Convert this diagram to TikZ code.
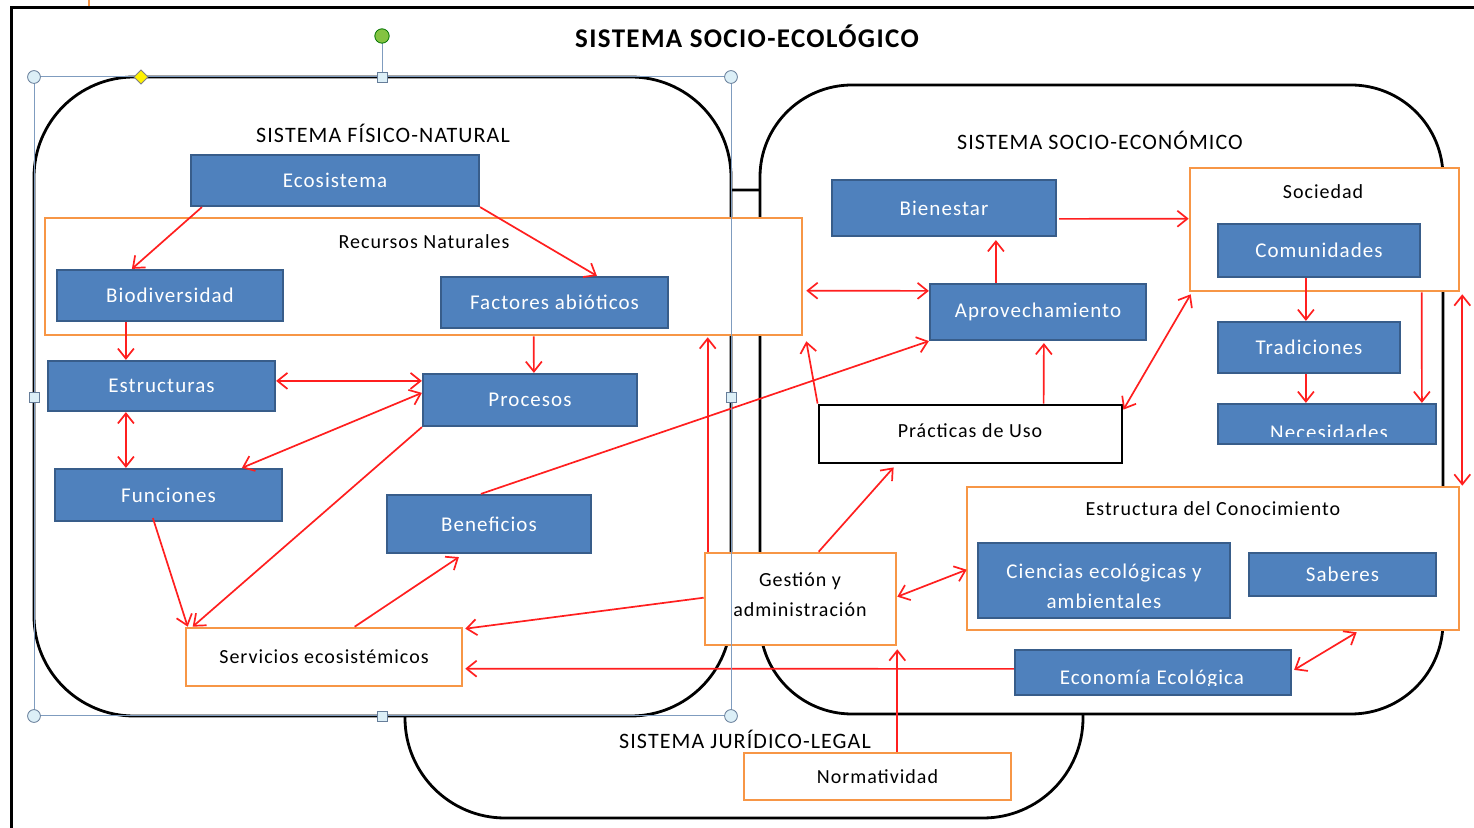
\documentclass[tikz,border=0pt]{standalone}
\usepackage{fontspec}
\setmainfont{Carlito}[LetterSpace=5]
\usetikzlibrary{arrows.meta,calc}
\definecolor{bfill}{HTML}{4F81BD}
\definecolor{bline}{HTML}{385D8A}
\definecolor{orng}{HTML}{F79646}
\definecolor{selc}{HTML}{7F9CBF}
\definecolor{hfill}{HTML}{DCEFF7}
\definecolor{grn}{HTML}{84C341}
\definecolor{ylw}{HTML}{FFF200}
\definecolor{arrred}{HTML}{FF1F1F}
\newcommand\rbox[7]{\node[#1,minimum width={(#5-#3)*0.5pt},minimum height={(#6-#4)*0.5pt}] (#2) at ({(#3+#5)/2},{(#4+#6)/2}) {#7};}
\tikzset{
  bluebox/.style={draw=bline, fill=bfill, line width=1.1pt, inner sep=0pt, text=white, font=\fontsize{10.5}{15}\selectfont, align=center},
  obox/.style={draw=orng, fill=white, line width=1.3pt, inner sep=0pt, font=\fontsize{10}{15}\selectfont, align=center},
  kbox/.style={draw=black, fill=white, line width=1.4pt, inner sep=0pt, font=\fontsize{10}{15}\selectfont},
  lbl/.style={font=\fontsize{10}{15}\selectfont, inner sep=0pt, align=center},
  wlbl/.style={font=\fontsize{10.5}{15}\selectfont, inner sep=0pt, align=center, text=white},
  syslbl/.style={font=\fontsize{11}{13}\selectfont, inner sep=0pt},
  sysrect/.style={draw=black, fill=white, line width=1.4pt, inner sep=0pt},
  arr/.style={draw=arrred, line width=0.85pt, -{Straight Barb[length=5pt,width=8pt]}},
  darr/.style={draw=arrred, line width=0.85pt, {Straight Barb[length=5pt,width=8pt]}-{Straight Barb[length=5pt,width=8pt]}},
  sel/.style={draw=selc, line width=0.5pt},
  handle/.style={draw=selc!80!black, fill=hfill, line width=0.4pt}
}
\begin{document}
\begin{tikzpicture}[x=0.5pt,y=-0.5pt]
\useasboundingbox (0,0) rectangle (1474,828);
\fill[white] (0,0) rectangle (1474,828);
% outer frame
\draw[line width=1.5pt] (11,828) -- (11,8) -- (1474,8);
\draw[orng, line width=1pt] (89,0) -- (89,6);
\node[font=\fontsize{13.5}{16}\selectfont\bfseries, inner sep=0pt] (title) at (747,36) {SISTEMA SOCIO-ECOLÓGICO};
% systems
\rbox{sysrect, rounded corners=50pt}{leg}{405}{190}{1083}{818}{}
\rbox{sysrect, rounded corners=50pt}{phys}{34}{77}{731}{716}{}
\rbox{sysrect, rounded corners=46pt}{soc-sys}{760}{85}{1443}{714}{}
\node[syslbl] (physl) at (383,133) {SISTEMA FÍSICO-NATURAL};
\node[syslbl] (socl) at (1100,140) {SISTEMA SOCIO-ECONÓMICO};
\node[syslbl] (legl) at (745,739) {SISTEMA JURÍDICO-LEGAL};
% containers
\rbox{obox}{rec}{45}{218}{802}{335}{}
\node[lbl] (recl) at (424,242) {Recursos Naturales};
\rbox{obox}{soc}{1190}{168}{1459}{291}{}
\node[lbl] (socbl) at (1323,192) {Sociedad};
\rbox{obox}{ecn}{967}{487}{1459}{630}{}
\node[lbl] (ecnl) at (1213,509) {Estructura del Conocimiento};
\rbox{obox}{ges}{705}{553}{896}{645}{}
\node[lbl] (gesl) at (800,595) {Gestión y\\administración};
\rbox{obox}{ser}{186}{628}{462}{686}{Servicios ecosistémicos}
\rbox{obox}{nor}{744}{753}{1011}{800}{Normatividad}
\rbox{kbox}{pra}{819}{405}{1122}{463}{}
\node[lbl] (pral) at (970,431) {Prácticas de Uso};
% blue boxes
\rbox{bluebox}{eco}{191}{155}{479}{206}{Ecosistema}
\rbox{bluebox}{bio}{57}{270}{283}{321}{Biodiversidad}
\rbox{bluebox}{fac}{441}{277}{668}{328}{Factores abióticos}
\rbox{bluebox}{est}{48}{361}{275}{411}{Estructuras}
\rbox{bluebox}{pro}{423}{374}{637}{426}{Procesos}
\rbox{bluebox}{fun}{55}{469}{282}{521}{Funciones}
\rbox{bluebox}{ben}{387}{495}{591}{553}{Beneficios}
\rbox{bluebox}{bie}{832}{180}{1056}{236}{Bienestar}
\rbox{bluebox}{apr}{930}{284}{1146}{340}{Aprovechamiento}
\rbox{bluebox}{com}{1218}{224}{1420}{277}{Comunidades}
\rbox{bluebox}{tra}{1218}{322}{1400}{373}{Tradiciones}
\rbox{bluebox}{nec}{1218}{404}{1436}{444}{}
\begin{scope}
\clip (1218,404) rectangle (1436,437);
\node[text=white, font=\fontsize{10.5}{12}\selectfont, inner sep=0pt, anchor=base] (necl) at (1329,440) {Necesidades};
\end{scope}
\rbox{bluebox}{cie}{978}{543}{1230}{618}{}
\node[wlbl] (ciel) at (1104,586) {Ciencias ecológicas y\\ambientales};
\rbox{bluebox}{sab}{1249}{553}{1436}{596}{Saberes}
\rbox{bluebox}{eec}{1015}{650}{1291}{695}{}
\begin{scope}
\clip (1015,650) rectangle (1291,686);
\node[text=white, font=\fontsize{10.5}{12}\selectfont, inner sep=0pt, anchor=base] (eecl) at (1152,684) {Economía Ecológica};
\end{scope}
% connectors
\draw[arr] ($(eco.south west)+(12,0)$) -- ($(bio.north west)+(76,0)$);
\draw[arr] (eco.south east) -- ($(fac.north west)+(157,0)$);
\draw[arr] ($(bio.south west)+(70,0)$) -- ($(est.north west)+(79,0)$);
\draw[arr] ($(rec.south west)+(490,0)$) -- ($(pro.north west)+(112,0)$);
\draw[darr] ($(est.north east)+(0,21)$) -- ($(pro.north west)+(0,8)$);
\draw[darr] ($(est.south west)+(79,0)$) -- ($(fun.north west)+(72,0)$);
\draw[darr] ($(pro.north west)+(0,20)$) -- ($(fun.north west)+(188,0)$);
\draw[arr] (pro.south west) -- ($(ser.north west)+(8,0)$);
\draw[arr] ($(fun.south west)+(99,-4)$) -- ($(ser.north west)+(3,0)$);
\draw[arr] ($(ser.north west)+(170,0)$) -- ($(ben.south west)+(73,3)$);
\draw[arr] ($(ben.north west)+(95,0)$) -- (apr.south west);
\draw[arr] ($(ges.north west)+(0,46)$) -- ($(ser.north east)+(2,2)$);
\draw[arr] ($(eec.north west)+(0,20)$) -- ($(ser.north east)+(2,42)$);
\draw[arr] ($(ges.north west)+(4,0)$) -- ($(rec.south west)+(664,1)$);
\draw[arr] (pra.north west) -- ($(rec.south east)+(3,5)$);
\draw[darr] ($(rec.north east)+(3,74)$) -- ($(apr.north west)+(0,8)$);
\draw[arr] ($(apr.north west)+(67,0)$) -- ($(bie.south west)+(165,3)$);
\draw[arr] ($(pra.north west)+(226,0)$) -- ($(apr.south west)+(115,2)$);
\draw[arr] ($(bie.north east)+(2,40)$) -- ($(soc.north west)+(0,52)$);
\draw[darr] ($(soc.south west)+(2,2)$) -- ($(pra.north east)+(0,6)$);
\draw[arr] ($(com.south west)+(89,0)$) -- ($(tra.north west)+(89,0)$);
\draw[arr] ($(tra.south west)+(89,0)$) -- ($(nec.north west)+(89,0)$);
\draw[arr] ($(soc.south west)+(233,0)$) -- ($(nec.north west)+(205,0)$);
\draw[darr] ($(soc.south east)+(2,2)$) -- ($(ecn.north east)+(2,0)$);
\draw[arr] ($(ges.north west)+(115,0)$) -- ($(pra.south west)+(76,3)$);
\draw[darr] ($(ges.north east)+(0,45)$) -- ($(ecn.north west)+(1,84)$);
\draw[arr] (ges.south east |- nor.north) -- ($(ges.south east)+(0,3)$);
\draw[darr] ($(eec.north east)+(2,21)$) -- ($(ecn.south west)+(391,1)$);
% selection frame and handles
\draw[sel] (34,77) rectangle (731,716);
\draw[sel] (382,77) -- (382,36);
\foreach \p in {(34,77),(731,77),(34,716),(731,716)} \draw[handle] \p circle[radius=3.2pt];
\foreach \p in {(382,77),(34,397),(731,397),(382,716)} \draw[handle] \p ++(-5,-5) rectangle ++(10,10);
\draw[draw=green!45!black, fill=grn, line width=0.4pt] (382,36) circle[radius=3.6pt];
\draw[draw=gray, fill=ylw, line width=0.4pt] (141,70) -- (148,77) -- (141,84) -- (134,77) -- cycle;
\end{tikzpicture}
\end{document}
